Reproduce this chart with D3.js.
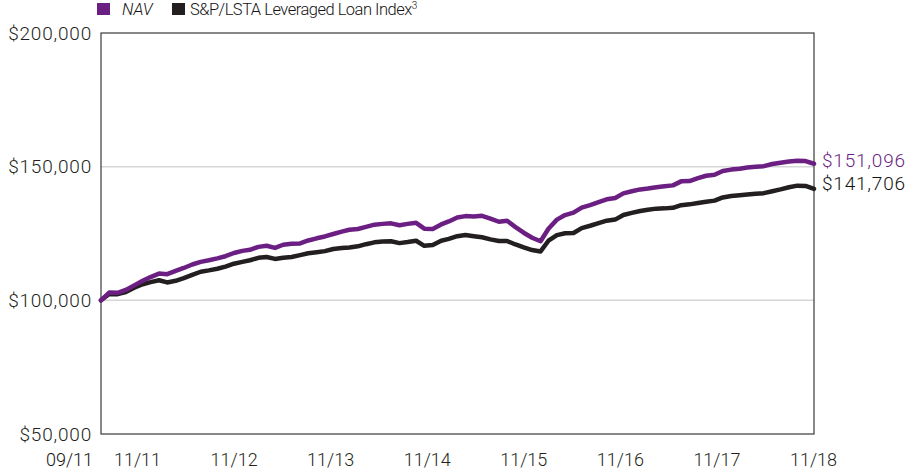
<!DOCTYPE html>
<html>
<head>
<meta charset="utf-8">
<script src="https://cdn.jsdelivr.net/npm/d3@7"></script>
<style>
  body { margin: 0; background: #fff; }
  svg text { font-family: Roboto, "Liberation Sans", sans-serif; fill: #231f20; }
</style>
</head>
<body>
<div id="chart"></div>
<script>
// monthly values, 09/11 .. 11/18 (87 month-ends)
const START = new Date(2011, 8, 1);
const navValues = [
  100000, 102900, 102800, 103900, 105600, 107300, 108700, 110000, 109800, 111000,
  112100, 113400, 114400, 115000, 115700, 116500, 117700, 118500, 118900, 120000,
  120400, 119600, 120800, 121200, 121300, 122400, 123200, 123900, 124800, 125700,
  126400, 126700, 127500, 128300, 128600, 128800, 128100, 128600, 129000, 126800,
  126700, 128400, 129500, 131000, 131500, 131400, 131600, 130600, 129400, 129800,
  127400, 125300, 123400, 122100, 126800, 130200, 131900, 132800, 134700, 135600,
  136700, 137800, 138300, 140000, 140800, 141500, 141800, 142300, 142700, 143000,
  144500, 144600, 145700, 146600, 147000, 148400, 148900, 149200, 149700, 150000,
  150200, 151000, 151500, 151900, 152250, 152100, 151096
];
const indexValues = [
  100000, 102400, 102300, 103100, 104700, 106000, 106800, 107500, 106700, 107300,
  108300, 109500, 110700, 111200, 111800, 112600, 113700, 114400, 115000, 115900,
  116200, 115500, 115900, 116200, 116900, 117600, 118000, 118400, 119200, 119600,
  119800, 120200, 121000, 121700, 122000, 122100, 121400, 121800, 122300, 120400,
  120700, 122300, 123000, 124000, 124400, 124000, 123600, 122800, 122200, 122200,
  120900, 119800, 118800, 118300, 122300, 124400, 125100, 125200, 127000, 127900,
  128900, 129800, 130200, 131900, 132700, 133400, 133900, 134300, 134400, 134600,
  135600, 135900, 136400, 136900, 137300, 138500, 139000, 139300, 139600, 139900,
  140100, 140800, 141500, 142300, 142900, 142800, 141706
];
const seriesNames = ["NAV", "S&P/LSTA Leveraged Loan Index"];
const seriesColors = ["#6c1f83", "#231f20"];
const yTicks = [50000, 100000, 150000, 200000];
const yGrid = [100000, 150000];
const xTickLabels = ["11/11", "11/12", "11/13", "11/14", "11/15", "11/16", "11/17", "11/18"];
const xTickMonths = [2, 14, 26, 38, 50, 62, 74, 86];
const firstLabel = "09/11";

const W = 910, H = 472;
const MARGIN = { top: 33, right: 96, bottom: 38, left: 101 };

const dates = navValues.map((_, i) => d3.timeMonth.offset(START, i));
const series = [navValues, indexValues].map((vals, s) => ({
  name: seriesNames[s],
  color: seriesColors[s],
  points: vals.map((v, i) => ({ date: dates[i], value: v }))
}));

const svg = d3.select("#chart").append("svg")
  .attr("width", W).attr("height", H);

const x = d3.scaleTime()
  .domain([dates[0], dates[dates.length - 1]])
  .range([MARGIN.left, W - MARGIN.right]);
const y = d3.scaleLinear()
  .domain([50000, 200000])
  .range([H - MARGIN.bottom, MARGIN.top]);

// tick labels sit on their own evenly spaced scale
const xLabel = d3.scaleLinear()
  .domain([2, 86])
  .range([137, W - MARGIN.right - 1]);

const fmt = d3.format("$,");
const TEXT = "#151314";

// grid
svg.append("g").selectAll("line").data(yGrid).join("line")
  .attr("x1", MARGIN.left).attr("x2", W - MARGIN.right)
  .attr("y1", d => y(d)).attr("y2", d => y(d))
  .attr("stroke", "#d6d6d6").attr("stroke-width", 1.5);

// frame
svg.append("rect")
  .attr("x", MARGIN.left).attr("y", MARGIN.top)
  .attr("width", W - MARGIN.left - MARGIN.right)
  .attr("height", H - MARGIN.top - MARGIN.bottom)
  .attr("fill", "none").attr("stroke", "#3a3a3a").attr("stroke-width", 1.2);

// y axis labels
const yAxis = svg.append("g")
  .attr("transform", `translate(${MARGIN.left},0)`)
  .call(d3.axisLeft(y).tickValues(yTicks).tickFormat(fmt).tickSize(0).tickPadding(9));
yAxis.select(".domain").remove();
yAxis.selectAll("text")
  .attr("font-size", 19).attr("font-weight", 300)
  .style("letter-spacing", "0.8px")
  .attr("fill", TEXT);

// x axis labels
const xAxis = svg.append("g")
  .attr("transform", `translate(0,${H - MARGIN.bottom})`)
  .call(d3.axisBottom(xLabel).tickValues(xTickMonths)
    .tickFormat((d, i) => xTickLabels[i]).tickSize(0).tickPadding(19));
xAxis.select(".domain").remove();
xAxis.selectAll("text")
  .attr("font-size", 18).attr("font-weight", 300).attr("fill", TEXT);

svg.append("text")
  .attr("x", x(dates[0]) - 8)
  .attr("y", H - MARGIN.bottom + 19)
  .attr("dy", "0.71em")
  .attr("text-anchor", "end")
  .attr("font-size", 18).attr("font-weight", 300)
  .style("fill", TEXT)
  .text(firstLabel);

// lines
const line = d3.line()
  .x(d => x(d.date))
  .y(d => y(d.value));

svg.append("g").selectAll("path").data(series.slice().reverse()).join("path")
  .attr("d", d => line(d.points))
  .attr("fill", "none")
  .attr("stroke", d => d.color)
  .attr("stroke-width", 4.5)
  .attr("stroke-linejoin", "round")
  .attr("stroke-linecap", "round");

// end labels
const endOffsets = [-3, -5];
svg.append("g").selectAll("text").data(series).join("text")
  .attr("x", W - MARGIN.right + 8)
  .attr("y", (d, i) => y(d.points[d.points.length - 1].value) + endOffsets[i])
  .attr("dy", "0.35em")
  .attr("font-size", 19).attr("font-weight", 300)
  .style("letter-spacing", "0.8px")
  .style("fill", (d, i) => i === 0 ? d.color : TEXT)
  .text(d => fmt(d.points[d.points.length - 1].value));

// legend
const legend = svg.append("g");
const legendX = [97, 172];
legend.selectAll("rect").data(series).join("rect")
  .attr("x", (d, i) => legendX[i]).attr("y", 3)
  .attr("width", 13).attr("height", 12)
  .attr("fill", d => d.color);

legend.append("text")
  .attr("x", legendX[0] + 25).attr("y", 15)
  .attr("font-size", 16.5).attr("font-weight", 300).attr("font-style", "italic")
  .style("fill", TEXT)
  .text(seriesNames[0]);

const idx = legend.append("text")
  .attr("x", legendX[1] + 18).attr("y", 15)
  .attr("font-size", 16.5).attr("font-weight", 300)
  .style("letter-spacing", "-0.5px")
  .style("fill", TEXT)
  .text(seriesNames[1]);
idx.append("tspan")
  .attr("font-size", 10).attr("dy", -6)
  .text("3");
</script>
</body>
</html>
